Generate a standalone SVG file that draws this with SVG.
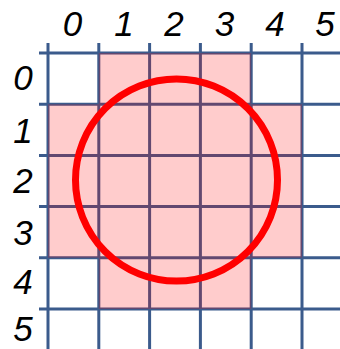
<svg xmlns="http://www.w3.org/2000/svg" width="340" height="349" viewBox="0 0 340 349">
<style>
.grid line{stroke:#3B5B8C;stroke-width:3}
.lbl{font-family:"Liberation Sans",Arial,sans-serif;font-style:italic;font-size:35px;fill:#000;text-anchor:middle}
</style>
<rect width="340" height="349" fill="#fff"/>
<g id="grid" class="grid">
<line x1="48" y1="43" x2="48" y2="349"/>
<line x1="98.8" y1="43" x2="98.8" y2="349"/>
<line x1="149.6" y1="43" x2="149.6" y2="349"/>
<line x1="200.4" y1="43" x2="200.4" y2="349"/>
<line x1="251.2" y1="43" x2="251.2" y2="349"/>
<line x1="302" y1="43" x2="302" y2="349"/>
<line x1="39" y1="53" x2="340" y2="53"/>
<line x1="39" y1="104.2" x2="340" y2="104.2"/>
<line x1="39" y1="155.4" x2="340" y2="155.4"/>
<line x1="39" y1="206.6" x2="340" y2="206.6"/>
<line x1="39" y1="257.8" x2="340" y2="257.8"/>
<line x1="39" y1="309" x2="340" y2="309"/>
</g>
<path id="cells" d="M98.8 53H251.2V104.2H302V257.8H251.2V309H98.8V257.8H48V104.2H98.8Z" fill="#ff0000" fill-opacity="0.2"/>
<circle id="circle" cx="176.5" cy="180" r="101" fill="none" stroke="#ff0000" stroke-width="7"/>
<g id="col-labels" class="lbl">
<text x="72.5" y="36">0</text>
<text x="124" y="36">1</text>
<text x="174" y="36">2</text>
<text x="224.5" y="36">3</text>
<text x="275" y="36">4</text>
<text x="325" y="36">5</text>
</g>
<g id="row-labels" class="lbl">
<text x="23" y="90">0</text>
<text x="23" y="143">1</text>
<text x="23" y="193">2</text>
<text x="23" y="245">3</text>
<text x="23" y="294">4</text>
<text x="23" y="341">5</text>
</g>
</svg>
